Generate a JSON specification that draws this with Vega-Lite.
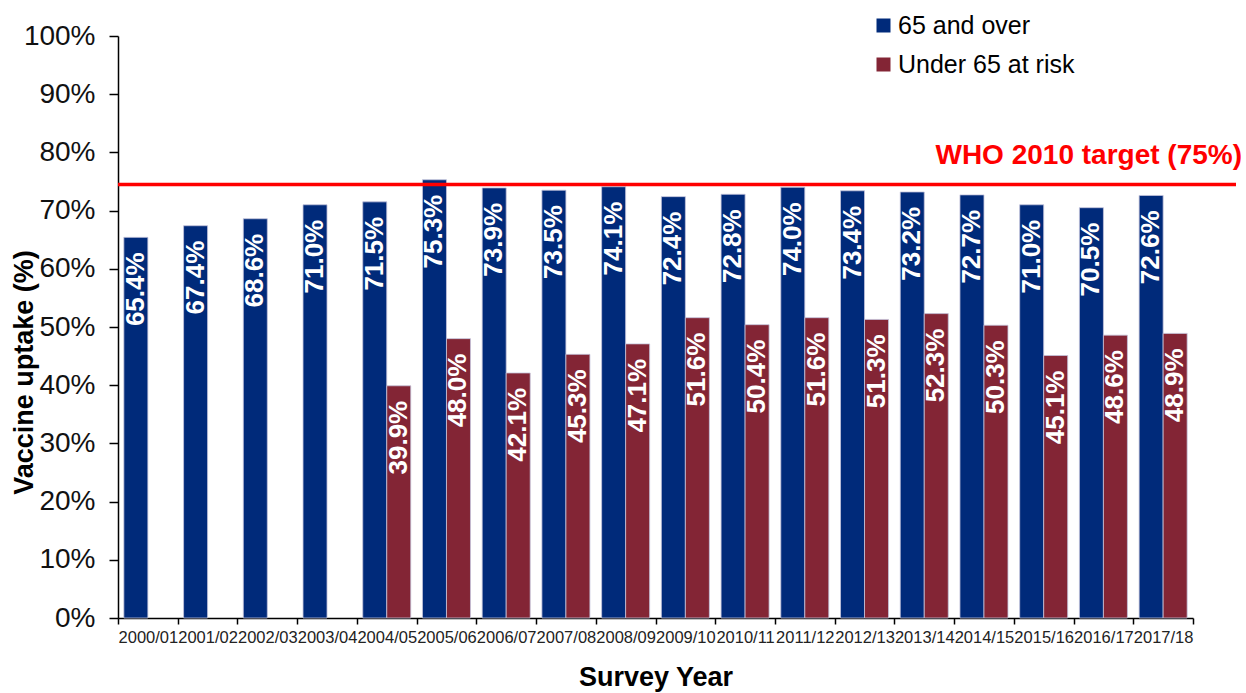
{
  "$schema": "https://vega.github.io/schema/vega-lite/v6.json",
  "width": 1118,
  "height": 582,
  "autosize": "none",
  "padding": {"left": 118, "top": 36, "right": 10, "bottom": 75},
  "config": {"font": "Liberation Sans", "view": {"stroke": null}},
  "data": {"values": [
    {"year": "2000/01", "group": "65 and over", "uptake": 65.4, "label": "65.4%"},
    {"year": "2001/02", "group": "65 and over", "uptake": 67.4, "label": "67.4%"},
    {"year": "2002/03", "group": "65 and over", "uptake": 68.6, "label": "68.6%"},
    {"year": "2003/04", "group": "65 and over", "uptake": 71.0, "label": "71.0%"},
    {"year": "2004/05", "group": "65 and over", "uptake": 71.5, "label": "71.5%"},
    {"year": "2005/06", "group": "65 and over", "uptake": 75.3, "label": "75.3%"},
    {"year": "2006/07", "group": "65 and over", "uptake": 73.9, "label": "73.9%"},
    {"year": "2007/08", "group": "65 and over", "uptake": 73.5, "label": "73.5%"},
    {"year": "2008/09", "group": "65 and over", "uptake": 74.1, "label": "74.1%"},
    {"year": "2009/10", "group": "65 and over", "uptake": 72.4, "label": "72.4%"},
    {"year": "2010/11", "group": "65 and over", "uptake": 72.8, "label": "72.8%"},
    {"year": "2011/12", "group": "65 and over", "uptake": 74.0, "label": "74.0%"},
    {"year": "2012/13", "group": "65 and over", "uptake": 73.4, "label": "73.4%"},
    {"year": "2013/14", "group": "65 and over", "uptake": 73.2, "label": "73.2%"},
    {"year": "2014/15", "group": "65 and over", "uptake": 72.7, "label": "72.7%"},
    {"year": "2015/16", "group": "65 and over", "uptake": 71.0, "label": "71.0%"},
    {"year": "2016/17", "group": "65 and over", "uptake": 70.5, "label": "70.5%"},
    {"year": "2017/18", "group": "65 and over", "uptake": 72.6, "label": "72.6%"},
    {"year": "2004/05", "group": "Under 65 at risk", "uptake": 39.9, "label": "39.9%"},
    {"year": "2005/06", "group": "Under 65 at risk", "uptake": 48.0, "label": "48.0%"},
    {"year": "2006/07", "group": "Under 65 at risk", "uptake": 42.1, "label": "42.1%"},
    {"year": "2007/08", "group": "Under 65 at risk", "uptake": 45.3, "label": "45.3%"},
    {"year": "2008/09", "group": "Under 65 at risk", "uptake": 47.1, "label": "47.1%"},
    {"year": "2009/10", "group": "Under 65 at risk", "uptake": 51.6, "label": "51.6%"},
    {"year": "2010/11", "group": "Under 65 at risk", "uptake": 50.4, "label": "50.4%"},
    {"year": "2011/12", "group": "Under 65 at risk", "uptake": 51.6, "label": "51.6%"},
    {"year": "2012/13", "group": "Under 65 at risk", "uptake": 51.3, "label": "51.3%"},
    {"year": "2013/14", "group": "Under 65 at risk", "uptake": 52.3, "label": "52.3%"},
    {"year": "2014/15", "group": "Under 65 at risk", "uptake": 50.3, "label": "50.3%"},
    {"year": "2015/16", "group": "Under 65 at risk", "uptake": 45.1, "label": "45.1%"},
    {"year": "2016/17", "group": "Under 65 at risk", "uptake": 48.6, "label": "48.6%"},
    {"year": "2017/18", "group": "Under 65 at risk", "uptake": 48.9, "label": "48.9%"}
  ]},
  "encoding": {
    "x": {
      "field": "year", "type": "nominal", "sort": null,
      "scale": {"range": [0, 1075], "paddingInner": 0, "paddingOuter": 0},
      "axis": {
        "title": "Survey Year", "titleFontSize": 27, "titleFontWeight": "bold", "titleColor": "#000000",
        "titlePadding": 19,
        "labelAngle": 0, "labelFontSize": 16.5, "labelColor": "#222222", "labelOverlap": false, "labelBound": false,
        "labelPadding": 5,
        "tickBand": "extent", "tickSize": 6, "tickColor": "#000000", "domainColor": "#000000", "domainWidth": 1.5, "tickWidth": 1.5
      }
    },
    "y": {
      "field": "uptake", "type": "quantitative",
      "scale": {"domain": [0, 100], "nice": false},
      "axis": {
        "title": "Vaccine uptake (%)", "titleFontSize": 27, "titleFontWeight": "bold", "titleColor": "#000000",
        "titleX": -80, "titleY": 336, "titleAngle": -90, "titleAlign": "center", "titleBaseline": "bottom",
        "values": [0, 10, 20, 30, 40, 50, 60, 70, 80, 90, 100],
        "labelExpr": "datum.value + '%'", "labelFontSize": 28, "labelColor": "#111111", "labelPadding": 14,
        "tickSize": 9, "tickColor": "#000000", "domainColor": "#000000", "domainWidth": 1.5, "tickWidth": 1.5, "grid": false
      }
    },
    "xOffset": {"field": "group", "type": "nominal", "scale": {"domain": ["65 and over", "Under 65 at risk"], "paddingInner": 0, "paddingOuter": 0.244}}
  },
  "layer": [
    {
      "mark": {"type": "bar", "stroke": "#c4c4dc", "strokeWidth": 0.8},
      "encoding": {
        "color": {
          "field": "group", "type": "nominal",
          "scale": {"domain": ["65 and over", "Under 65 at risk"], "range": ["#002A7A", "#832535"]},
          "legend": {
            "title": null, "orient": "none", "legendX": 753, "legendY": -23,
            "symbolType": "square", "symbolSize": 196, "symbolStrokeWidth": 0, "symbolOpacity": 1,
            "labelFontSize": 25, "labelColor": "#000000", "labelOffset": 2, "rowPadding": 13, "labelLimit": 0
          }
        }
      }
    },
    {
      "mark": {"type": "text", "angle": -90, "align": "right", "baseline": "middle", "dx": -15, "color": "#ffffff", "fontSize": 26, "fontWeight": "bold"},
      "encoding": {"text": {"field": "label"}}
    },
    {
      "data": {"values": [{"target": 74.5, "name": "WHO 2010 target (75%)"}]},
      "mark": {"type": "rule", "color": "#FF0000", "strokeWidth": 3.5},
      "encoding": {"y": {"field": "target", "type": "quantitative"}, "x": null, "xOffset": null}
    },
    {
      "data": {"values": [{"target": 74.5, "name": "WHO 2010 target (75%)"}]},
      "mark": {"type": "text", "align": "right", "baseline": "alphabetic", "dx": 6, "dy": -20, "color": "#FF0000", "fontSize": 28, "fontWeight": "bold"},
      "encoding": {"y": {"field": "target", "type": "quantitative"}, "x": {"value": {"expr": "width"}}, "xOffset": null, "text": {"field": "name"}}
    }
  ]
}
